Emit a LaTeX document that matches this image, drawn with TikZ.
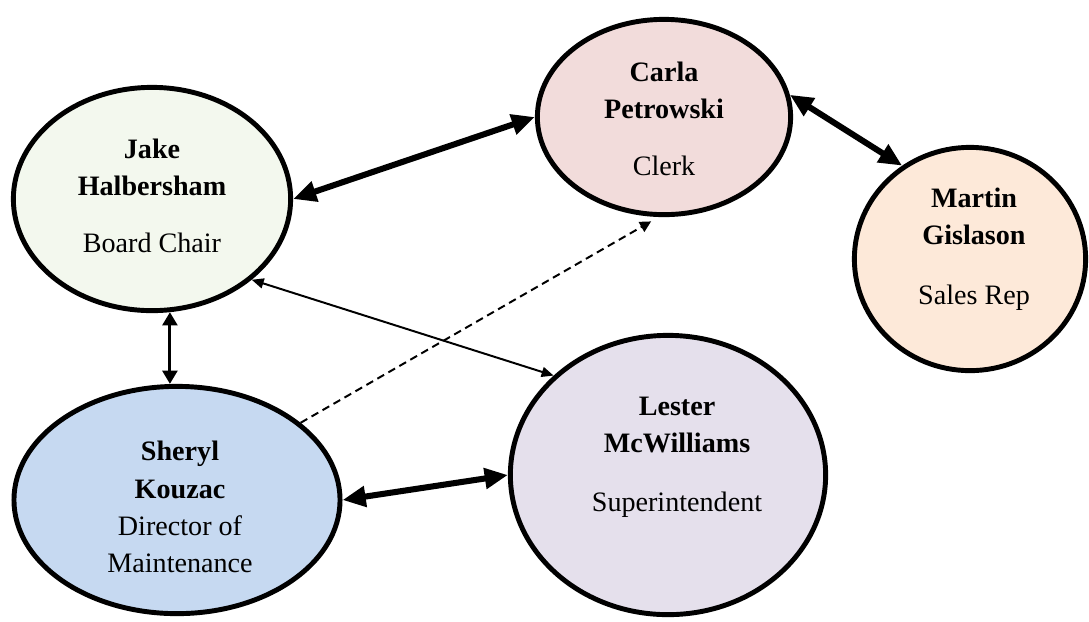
\documentclass[tikz,border=0pt]{standalone}
\usepackage{fontspec}
\setmainfont{Liberation Serif}
\usepackage{xcolor}
\definecolor{jakefill}{HTML}{F3F8EE}
\definecolor{carlafill}{HTML}{F2DCDB}
\definecolor{martinfill}{HTML}{FDE9D9}
\definecolor{sherylfill}{HTML}{C6D9F1}
\definecolor{lesterfill}{HTML}{E5E0EC}
\usetikzlibrary{arrows.meta, shapes.geometric}

\begin{document}
\begin{tikzpicture}[x=0.025cm, y=-0.025cm,
    every node/.style={font=\fontsize{20}{26.5}\selectfont},
    person/.style={draw, ellipse, line width=3.5pt, inner sep=0pt},
    bigarrow/.style={line width=4.3pt, {Triangle[length=0.58cm,width=0.5cm]}-{Triangle[length=0.58cm,width=0.5cm]}},
    midarrow/.style={line width=2.1pt, {Triangle[length=0.33cm,width=0.37cm]}-{Triangle[length=0.33cm,width=0.37cm]}},
    thinarrow/.style={line width=1.4pt, {Triangle[length=0.3cm,width=0.25cm]}-{Triangle[length=0.3cm,width=0.25cm]}},
    dasharrow/.style={line width=1.4pt, dash pattern=on 5.5pt off 3.5pt, -{Triangle[length=0.28cm,width=0.28cm]}, shorten >=0.22cm}]
  \useasboundingbox (0,0) rectangle (1089,621);

  % people
  \node[person, fill=jakefill, minimum width=6.93cm, minimum height=5.58cm] (jake) at (152,199) {};
  \node[person, fill=carlafill, minimum width=6.33cm, minimum height=4.88cm] (carla) at (664,117) {};
  \node[person, fill=martinfill, minimum width=5.78cm, minimum height=5.58cm] (martin) at (970,259) {};
  \node[person, fill=sherylfill, minimum width=8.15cm, minimum height=5.68cm] (sheryl) at (177,500) {};
  \node[person, fill=lesterfill, minimum width=7.88cm, minimum height=6.98cm] (lester) at (668,475) {};

  % names and roles
  \node[align=center] (jaketxt) at ([yshift=0.075cm]jake.center) {\textbf{Jake}\\\textbf{Halbersham}\\[14pt]Board Chair};
  \node[align=center] (carlatxt) at ([yshift=-0.05cm]carla.center) {\textbf{Carla}\\\textbf{Petrowski}\\[14pt]Clerk};
  \node[align=center] (martintxt) at ([xshift=0.1cm,yshift=0.25cm]martin.center) {\textbf{Martin}\\\textbf{Gislason}\\[16pt]Sales Rep};
  \node[align=center] (sheryltxt) at ([xshift=0.075cm,yshift=-0.175cm]sheryl.center) {\textbf{Sheryl}\\\textbf{Kouzac}\\Director of\\Maintenance};
  \node[align=center] (lestertxt) at ([xshift=0.225cm,yshift=0.45cm]lester.center) {\textbf{Lester}\\\textbf{McWilliams}\\[15pt]Superintendent};

  % links
  \draw[bigarrow] (jake.east) -- (carla.west);
  \draw[bigarrow] (carla.10) -- (martin.126);
  \draw[bigarrow] (sheryl.east) -- (lester.west);
  \draw[midarrow] (jake.-81) -- (jake.-81 |- sheryl.north);
  \draw[thinarrow] (jake.-39) -- (lester.139);
  \draw[dasharrow] (sheryl.32) -- (carla.-93);
\end{tikzpicture}
\end{document}
